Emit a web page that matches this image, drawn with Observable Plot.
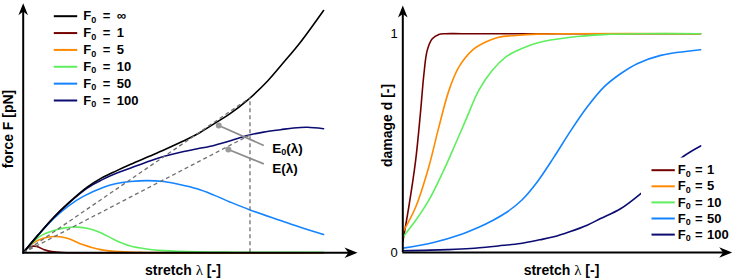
<!DOCTYPE html>
<html><head><meta charset="utf-8">
<script src="https://cdn.jsdelivr.net/npm/d3@7"></script>
<script src="https://cdn.jsdelivr.net/npm/@observablehq/plot@0.6"></script>
<style>
html,body{margin:0;padding:0;background:#fff;}
#wrap{display:flex;width:737px;height:280px;overflow:hidden;}
#wrap svg{display:block;flex:none;}
</style></head>
<body><div id="wrap"></div>
<script>
// ---------------- data ----------------
const seriesNames  = ["∞", "1", "5", "10", "50", "100"];
const seriesColors = ["#000000", "#720000", "#ff8a00", "#5eee5e", "#1383ff", "#0b0b72"];

// Left panel: force F vs stretch λ (arbitrary units)
const forceInfX = [0,0.5,1.02,1.5,2.13,2.6,3.1,3.58,4.2,4.7,5.24,5.8,6.35,6.9,7.46,8.13,8.68,9.23,10];
const forceInfY = [0,0.74,1.47,2.05,2.71,3.08,3.38,3.65,3.98,4.25,4.56,4.9,5.32,5.75,6.29,7.08,7.87,8.69,10];
const force1X   = [0,0.15,0.3,0.45,0.7,0.95,1.3,2,10];
const force1Y   = [0,0.2,0.27,0.26,0.13,0.05,0.01,0,0];
const force5X   = [0,0.25,0.5,0.8,1.1,1.47,2.0,2.57,3.2,4,5,10];
const force5Y   = [0,0.33,0.52,0.64,0.67,0.6,0.33,0.13,0.05,0.015,0.005,0];
const force10X  = [0,0.3,0.58,1.02,1.4,1.8,2.2,2.6,3.07,3.57,4.1,4.68,5.8,7,10];
const force10Y  = [0,0.4,0.7,0.92,1.03,1.06,0.99,0.82,0.52,0.28,0.16,0.09,0.04,0.025,0.02];
const force50X  = [0,0.5,1.02,1.5,2.0,2.68,3.07,3.57,4.13,4.68,5.2,5.79,6.35,6.9,7.55,8.57,9.3,10];
const force50Y  = [0,0.73,1.42,1.93,2.33,2.71,2.85,2.94,2.98,2.94,2.82,2.64,2.38,2.09,1.77,1.33,1.02,0.755];
const force100X = [0,0.5,1.02,1.5,2.13,2.6,3.1,3.58,4.24,4.7,5.24,5.8,6.35,6.9,7.46,8.0,8.57,9.0,9.46,10];
const force100Y = [0,0.74,1.46,2.03,2.67,3.0,3.28,3.5,3.8,3.98,4.15,4.29,4.43,4.62,4.84,4.98,5.08,5.15,5.18,5.12];

const secantStretch = 7.55;           // λ where the secant lines end
const annLabels = ["E_{0}(λ)", "E(λ)"];
const annDotX   = [6.51, 6.83];
const annDotY   = [5.25, 4.26];
const annEndX   = [8.01, 8.01];
const annEndY   = [4.43, 3.67];
const annTextX  = [8.29, 8.29];
const annTextY  = [4.30, 3.48];

// Right panel: damage d vs stretch λ
const damage1X   = [0,0.2,0.43,0.59,0.71,0.82,0.99,1.21,1.43,2,10];
const damage1Y   = [0.05,0.207,0.42,0.634,0.817,0.924,0.977,0.997,1,1,1];
const damage5X   = [0,0.43,0.87,1.21,1.55,1.88,2.33,2.78,3.22,3.79,4.5,5.5,10];
const damage5Y   = [0.093,0.207,0.39,0.573,0.741,0.847,0.924,0.962,0.984,0.992,0.998,1,1];
const damage10X  = [0,0.43,0.87,1.32,1.77,2.11,2.55,3.0,3.45,3.79,4.51,5.63,6.75,8,10];
const damage10Y  = [0.07,0.146,0.238,0.36,0.497,0.604,0.741,0.832,0.893,0.92,0.958,0.984,0.996,1,1];
const damage50X  = [0,1,2,2.55,3,3.5,4,4.5,5.07,5.63,6.19,6.75,7.31,7.87,8.66,10];
const damage50Y  = [0.02,0.045,0.085,0.115,0.145,0.185,0.24,0.32,0.435,0.555,0.665,0.756,0.817,0.863,0.901,0.927];
const damage100X = [0,1.5,2.27,3.2,3.95,4.6,5.07,5.6,6.19,6.64,7.31,8.04,8.7,9.44,10];
const damage100Y = [0.008,0.013,0.018,0.03,0.041,0.058,0.072,0.095,0.125,0.155,0.2,0.275,0.355,0.441,0.487];
const damageTicks = [0, 1];

// ---------------- helpers ----------------
const FONT = "'Liberation Sans', Arial, Helvetica, sans-serif";
const drawOrder = ["1", "5", "10", "50", "100", "∞"];
const colorScale = {domain: seriesNames, range: seriesColors};

function table(sets, order) {
  return order.filter(n => sets[n]).flatMap(n => sets[n][0].map((x, j) => ({name: n, x, y: sets[n][1][j]})));
}
function lerp(xs, ys, x) {
  const i = Math.min(xs.length - 1, Math.max(1, d3.bisectLeft(xs, x)));
  const t = (x - xs[i - 1]) / (xs[i] - xs[i - 1]);
  return ys[i - 1] + t * (ys[i] - ys[i - 1]);
}
const stealth = {
  draw(ctx, l) {
    const w = l * 0.4;
    ctx.moveTo(0, -l);
    ctx.lineTo(w, 0);
    ctx.lineTo(0, -l * 0.3);
    ctx.lineTo(-w, 0);
    ctx.closePath();
  }
};
function rich(svg) {
  const NS = "http://www.w3.org/2000/svg";
  svg.querySelectorAll("text").forEach(t => {
    if (t.querySelector("tspan")) return;
    const s = t.textContent;
    if (!/[_{]/.test(s)) return;
    const parts = s.split(/(_\{[^}]*\}|\{[^}]*\})/).filter(p => p);
    t.textContent = "";
    let shift = 0;
    for (const p of parts) {
      const ts = document.createElementNS(NS, "tspan");
      if (p.startsWith("_{")) {
        ts.textContent = p.slice(2, -1);
        ts.setAttribute("font-size", "9px");
        ts.setAttribute("dy", "2.5");
        shift = 2.5;
      } else {
        if (p.startsWith("{")) {
          ts.textContent = p.slice(1, -1);
          ts.setAttribute("font-family", "'Liberation Serif', 'DejaVu Serif', serif");
          ts.setAttribute("font-size", "15px");
          ts.setAttribute("font-weight", "normal");
        } else ts.textContent = p;
        if (shift) { ts.setAttribute("dy", -shift); shift = 0; }
      }
      t.appendChild(ts);
    }
  });
}
const labelStyle = {lineAnchor: "middle", textAnchor: "middle", fontWeight: "bold", fontSize: 14, fill: "black"};

// ---------------- left panel ----------------
const A = {width: 370, height: 280, ml: 22.7, mr: 13, mt: 2.7, mb: 27.7, xMax: 11.13, yMax: 10.3};
const ax = px => (px - A.ml) / (A.width - A.ml - A.mr) * A.xMax;
const ay = py => (A.height - A.mb - py) / (A.height - A.mb - A.mt) * A.yMax;

const forceData = table({
  "∞": [forceInfX, forceInfY], "1": [force1X, force1Y], "5": [force5X, force5Y],
  "10": [force10X, force10Y], "50": [force50X, force50Y], "100": [force100X, force100Y]
}, drawOrder);
const e0End = lerp(forceInfX, forceInfY, secantStretch);
const eEnd = lerp(force100X, force100Y, secantStretch);
const secants = [{x1: 0, y1: 0, x2: secantStretch, y2: e0End}, {x1: 0, y1: 0, x2: secantStretch, y2: eEnd}];
const ann = annLabels.map((label, i) => ({label, x1: annDotX[i], y1: annDotY[i], x2: annEndX[i], y2: annEndY[i], tx: annTextX[i], ty: annTextY[i]}));
const legA = seriesNames.map((name, i) => ({name, x1: ax(53.3), x2: ax(76.7), tx: ax(82.7), y: ay(15.7 + i * 16.86)}));

const left = Plot.plot({
  width: A.width, height: A.height,
  marginLeft: A.ml, marginRight: A.mr, marginTop: A.mt, marginBottom: A.mb,
  x: {domain: [0, A.xMax], axis: null},
  y: {domain: [0, A.yMax], axis: null},
  color: colorScale,
  style: {fontFamily: FONT, fontSize: "13px", background: "white", overflow: "visible"},
  marks: [
    Plot.line(forceData, {x: "x", y: "y", z: "name", stroke: "name", strokeWidth: 1.6, curve: "catmull-rom"}),
    Plot.link(secants, {x1: "x1", y1: "y1", x2: "x2", y2: "y2", stroke: "#707070", strokeWidth: 1.3, strokeDasharray: "4,3"}),
    Plot.ruleX([secantStretch], {y1: 0, y2: e0End, stroke: "#707070", strokeWidth: 1.3, strokeDasharray: "4,3"}),
    Plot.link(ann, {x1: "x1", y1: "y1", x2: "x2", y2: "y2", stroke: "#8c8c8c", strokeWidth: 1.7}),
    Plot.dot(ann, {x: "x1", y: "y1", r: 3, fill: "#9a9a9a", stroke: "none"}),
    Plot.text(ann, {x: "tx", y: "ty", text: "label", textAnchor: "start", lineAnchor: "middle", fontWeight: "bold", fontSize: 13.5, fill: "black"}),
    Plot.ruleX([0], {y1: 0, y2: A.yMax * 0.97, stroke: "black", strokeWidth: 2}),
    Plot.ruleY([0], {x1: 0, x2: A.xMax * 0.98, stroke: "black", strokeWidth: 2}),
    Plot.vector([{x: 0, y: A.yMax}], {x: "x", y: "y", length: 12, rotate: 0, anchor: "end", shape: stealth, fill: "black", stroke: "none"}),
    Plot.vector([{x: A.xMax, y: 0}], {x: "x", y: "y", length: 13, rotate: 90, anchor: "end", shape: stealth, fill: "black", stroke: "none"}),
    Plot.link(legA, {x1: "x1", x2: "x2", y1: "y", y2: "y", stroke: "name", strokeWidth: 2}),
    Plot.text(legA, {x: "tx", y: "y", text: d => `F_{0}\u2002=\u2002${d.name}`, textAnchor: "start", lineAnchor: "middle", fontWeight: "bold", fontSize: 13, fill: "black"}),
    Plot.text(["stretch {λ} [-]"], {frameAnchor: "bottom", dx: -7.4, dy: 17.7, ...labelStyle}),
    Plot.text(["force F [pN]"], {frameAnchor: "left", rotate: -90, dx: -14.4, dy: 1, ...labelStyle})
  ]
});

// ---------------- right panel ----------------
const B = {width: 367, height: 280, ml: 32.3, mr: 5.3, mt: 5, mb: 28, xMax: 11.06, yMax: 1.129};
const bx = px => (px - B.ml) / (B.width - B.ml - B.mr) * B.xMax;
const by = py => (B.height - B.mb - py) / (B.height - B.mb - B.mt) * B.yMax;

const damageData = table({
  "1": [damage1X, damage1Y], "5": [damage5X, damage5Y], "10": [damage10X, damage10Y],
  "50": [damage50X, damage50Y], "100": [damage100X, damage100Y]
}, drawOrder);
const legNames = seriesNames.slice(1);
const legB = legNames.map((name, i) => ({name, x1: bx(281), x2: bx(304.3), tx: bx(307.3), y: by(169.7 + i * 16.1)}));
const legBox = [{x1: bx(271), x2: bx(366), y1: by(245), y2: by(157.5)}];

const right = Plot.plot({
  width: B.width, height: B.height,
  marginLeft: B.ml, marginRight: B.mr, marginTop: B.mt, marginBottom: B.mb,
  x: {domain: [0, B.xMax], axis: null},
  y: {domain: [0, B.yMax], axis: null},
  color: colorScale,
  style: {fontFamily: FONT, fontSize: "13px", background: "white", overflow: "visible"},
  marks: [
    Plot.line(damageData, {x: "x", y: "y", z: "name", stroke: "name", strokeWidth: 1.6, curve: "catmull-rom"}),
    Plot.rect(legBox, {x1: "x1", x2: "x2", y1: "y1", y2: "y2", fill: "white"}),
    Plot.ruleX([0], {y1: 0, y2: B.yMax * 0.97, stroke: "black", strokeWidth: 2}),
    Plot.ruleY([0], {x1: 0, x2: B.xMax * 0.98, stroke: "black", strokeWidth: 2}),
    Plot.vector([{x: 0, y: B.yMax}], {x: "x", y: "y", length: 12, rotate: 0, anchor: "end", shape: stealth, fill: "black", stroke: "none"}),
    Plot.vector([{x: B.xMax, y: 0}], {x: "x", y: "y", length: 13, rotate: 90, anchor: "end", shape: stealth, fill: "black", stroke: "none"}),
    Plot.axisY(damageTicks, {tickSize: 0, tickPadding: 5, label: null, tickFormat: d => String(d), fontSize: 13, fontWeight: "normal", fill: "black"}),
    Plot.link(legB, {x1: "x1", x2: "x2", y1: "y", y2: "y", stroke: "name", strokeWidth: 2}),
    Plot.text(legB, {x: "tx", y: "y", text: d => `F_{0}\u2004=\u2004${d.name}`, textAnchor: "start", lineAnchor: "middle", fontWeight: "bold", fontSize: 13, fill: "black"}),
    Plot.text(["stretch {λ} [-]"], {frameAnchor: "bottom", dx: -6, dy: 18, ...labelStyle}),
    Plot.text(["damage d [-]"], {frameAnchor: "left", rotate: -90, dx: -15.6, dy: -3.5, ...labelStyle})
  ]
});

const wrap = document.getElementById("wrap");
wrap.append(left, right);
rich(left);
rich(right);
</script>
</body></html>
